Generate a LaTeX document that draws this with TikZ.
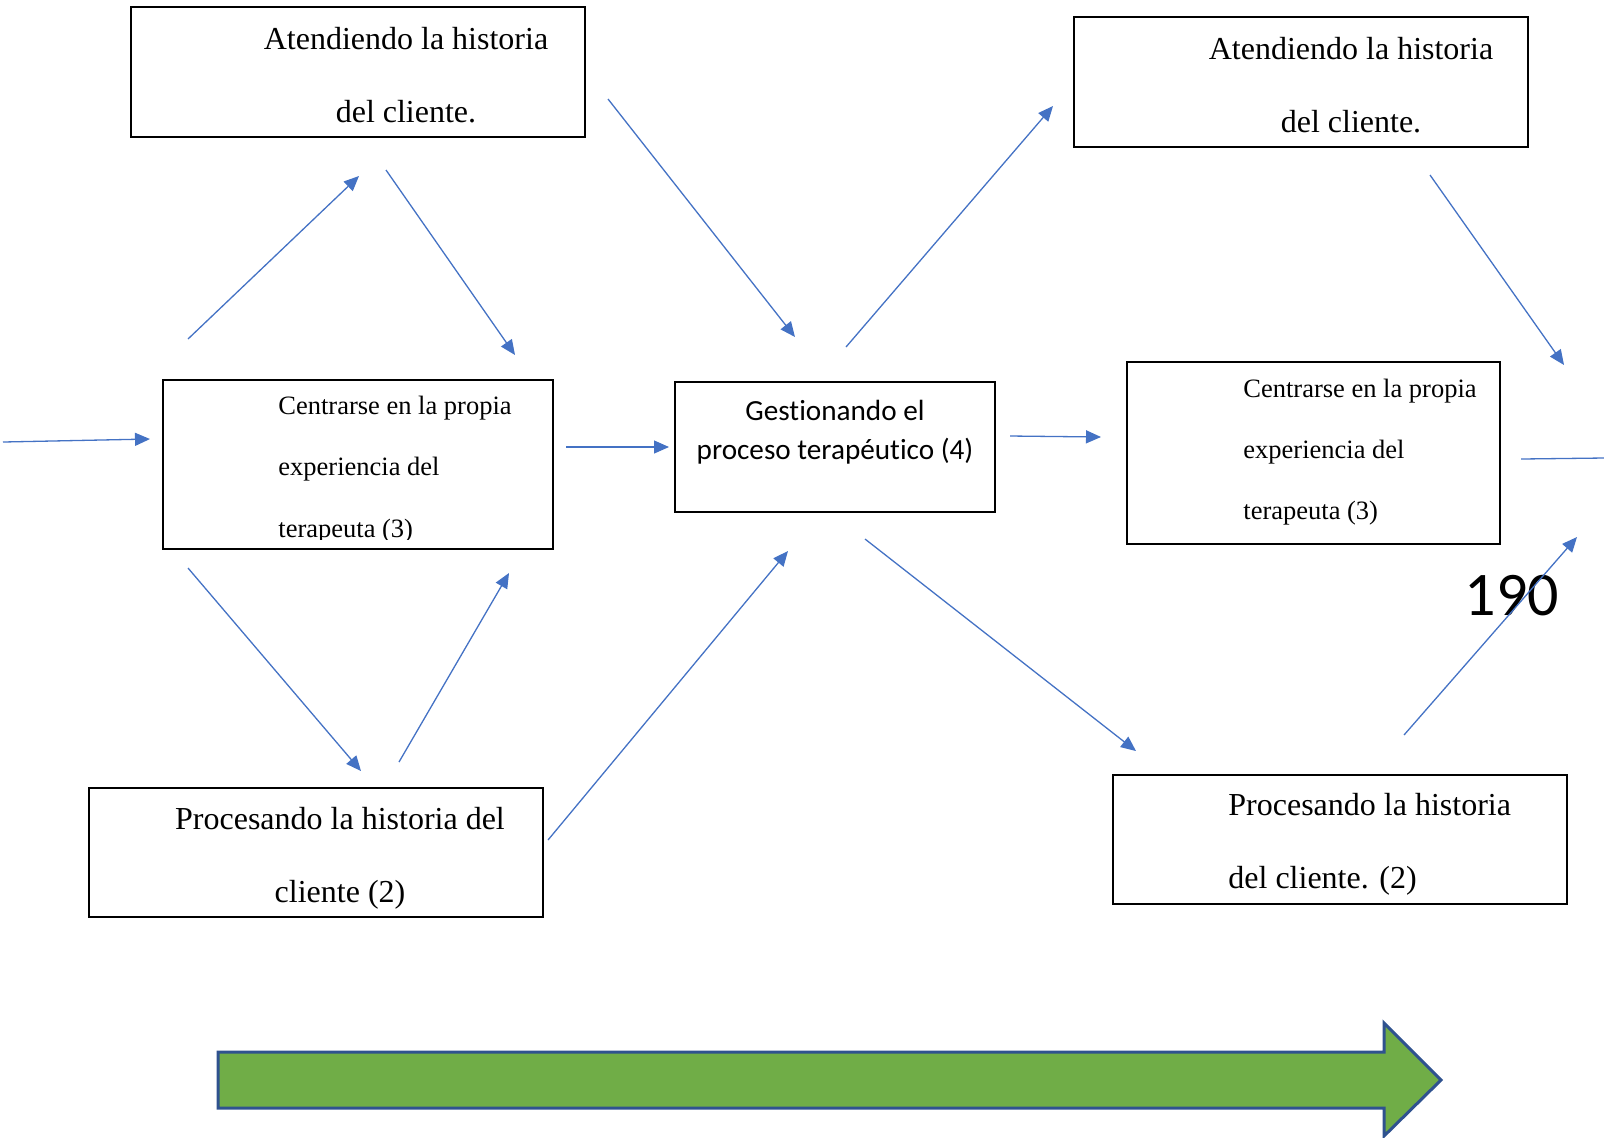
\documentclass[tikz,border=0pt]{standalone}
\usepackage{fontspec}
\setmainfont{Liberation Serif}
\newfontfamily\calibri[Ligatures=NoCommon]{Carlito}
\usetikzlibrary{arrows.meta}
\definecolor{flow}{HTML}{4472C4}
\definecolor{leaf}{HTML}{70AD47}
\definecolor{rim}{HTML}{2F528F}

\begin{document}
\begin{tikzpicture}[x=0.5pt, y=-0.5pt,
    bb/.style={draw, line width=0.6pt, inner sep=0pt},
    big/.style={inner sep=0pt, align=center, anchor=base, font=\fontsize{16}{36.5}\selectfont},
    small/.style={inner sep=0pt, align=left, anchor=base west, font=\fontsize{13.25}{#1}\selectfont},
    line/.style={draw=flow, line width=0.65pt},
    fl/.style={line, -{Triangle[length=7.5pt,width=6.5pt]}}]
    \useasboundingbox (0,0) rectangle (1604,1137);

    % boxes
    \node[bb, minimum width=227pt, minimum height=65pt] (A1) at (358,72) {};
    \node[bb, minimum width=227pt, minimum height=65pt] (A2) at (1301,82) {};
    \node[bb, minimum width=195pt, minimum height=84.5pt] (C1) at (358,464.5) {};
    \node[bb, minimum width=160pt, minimum height=65pt] (G) at (835,447) {};
    \node[bb, minimum width=186.5pt, minimum height=91pt] (C2) at (1313.5,453) {};
    \node[bb, minimum width=227pt, minimum height=64.5pt] (P1) at (316,852.5) {};
    \node[bb, minimum width=227pt, minimum height=64.5pt] (P2) at (1340,839.5) {};

    % texts (anchored at the baseline of their last line)
    \node[big] (A1t) at (406,122) {Atendiendo la historia\\del cliente.};
    \node[big] (A2t) at (1351,132) {Atendiendo la historia\\del cliente.};
    \node[big] (P1t) at (340,902) {Procesando la historia del\\cliente (2)};
    \node[big, align=left, anchor=base west] (P2t) at (1228,888) {Procesando la historia\\del cliente. (2)};
    \begin{scope}
        \clip (C1.north west) rectangle ([yshift=5pt]C1.south east);
        \node[small=30.75pt] (C1t) at (278,537) {Centrarse en la propia\\experiencia del\\terapeuta (3)};
    \end{scope}
    \node[small=30.5pt] (C2t) at (1243,519) {Centrarse en la propia\\experiencia del\\terapeuta (3)};
    \node[inner sep=0pt, align=center, anchor=base, font=\calibri\fontsize{14.6}{19.5}\selectfont] (Gt) at (835,459) {Gestionando el\\proceso terapéutico (4)};
    \node[inner sep=0pt, anchor=base, font=\calibri\fontsize{31}{37}\selectfont] (pg) at (1512,615) {190};

    % connector ends
    \coordinate (in-s) at (3,442);      \coordinate (in-e) at (150,439);
    \coordinate (c1a1-s) at (188,339);  \coordinate (c1a1-e) at (359,176);
    \coordinate (a1c1-s) at (386,170);  \coordinate (a1c1-e) at (515,355);
    \coordinate (a1g-s) at (608,99);    \coordinate (a1g-e) at (795,337);
    \coordinate (c1g-s) at (566,447);   \coordinate (c1g-e) at (669,447);
    \coordinate (c1p1-s) at (188,568);  \coordinate (c1p1-e) at (361,771);
    \coordinate (p1c1-s) at (399,762);  \coordinate (p1c1-e) at (509,573);
    \coordinate (p1g-s) at (548,840);   \coordinate (p1g-e) at (788,551);
    \coordinate (ga2-s) at (846,347);   \coordinate (ga2-e) at (1053,106);
    \coordinate (gc2-s) at (1010,436);  \coordinate (gc2-e) at (1101,437);
    \coordinate (gp2-s) at (865,539);   \coordinate (gp2-e) at (1136,751);
    \coordinate (a2r-s) at (1430,175);  \coordinate (a2r-e) at (1564,365);
    \coordinate (c2r-s) at (1521,459);  \coordinate (c2r-e) at (1604,458);
    \coordinate (p2r-s) at (1404,735);  \coordinate (p2r-e) at (1577,537);

    % connectors
    \draw[fl] (in-s) -- (in-e);
    \draw[fl] (c1a1-s) -- (c1a1-e);
    \draw[fl] (a1c1-s) -- (a1c1-e);
    \draw[fl] (a1g-s) -- (a1g-e);
    \draw[fl] (c1g-s) -- (c1g-e);
    \draw[fl] (c1p1-s) -- (c1p1-e);
    \draw[fl] (p1c1-s) -- (p1c1-e);
    \draw[fl] (p1g-s) -- (p1g-e);
    \draw[fl] (ga2-s) -- (ga2-e);
    \draw[fl] (gc2-s) -- (gc2-e);
    \draw[fl] (gp2-s) -- (gp2-e);
    \draw[fl] (a2r-s) -- (a2r-e);
    \draw[line] (c2r-s) -- (c2r-e);
    \draw[fl] (p2r-s) -- (p2r-e);

    % big arrow
    \draw[fill=leaf, draw=rim, line width=1.5pt, line join=miter]
        (218,1052) -- (1384,1052) -- (1384,1023) -- (1441,1080)
        -- (1384,1136) -- (1384,1108) -- (218,1108) -- cycle;
\end{tikzpicture}
\end{document}
